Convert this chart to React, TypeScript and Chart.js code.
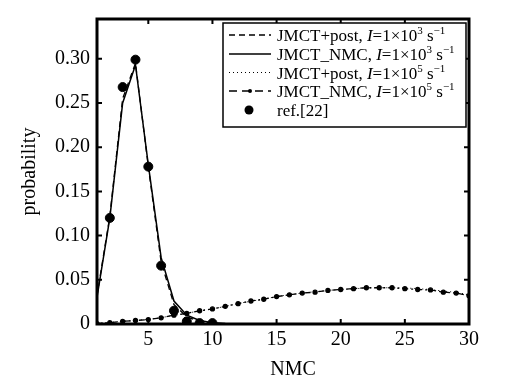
import React, { useEffect, useRef } from "react";
import { Chart, registerables } from "chart.js";

Chart.register(...registerables);

// ---- data ----
const nmcX = [1, 2, 3, 4, 5, 6, 7, 8, 9, 10, 11, 12, 13, 14, 15, 16, 17, 18, 19, 20, 21, 22, 23, 24, 25, 26, 27, 28, 29, 30];
const jmctPost1e3 = [0.032, 0.122, 0.255, 0.295, 0.178, 0.070, 0.022, 0.008, 0.003, 0.001, 0.0004, 0.0001, 0, 0, 0, 0, 0, 0, 0, 0, 0, 0, 0, 0, 0, 0, 0, 0, 0, 0];
const jmctNmc1e3 = [0.030, 0.120, 0.250, 0.293, 0.180, 0.075, 0.026, 0.010, 0.004, 0.0015, 0.0006, 0.0002, 0.0001, 0, 0, 0, 0, 0, 0, 0, 0, 0, 0, 0, 0, 0, 0, 0, 0, 0];
const jmctPost1e5 = [0.0005, 0.0018, 0.003, 0.0042, 0.0052, 0.0072, 0.0098, 0.0122, 0.0148, 0.0172, 0.0198, 0.0232, 0.0258, 0.0282, 0.031, 0.0332, 0.035, 0.0365, 0.038, 0.039, 0.0398, 0.0408, 0.041, 0.041, 0.0408, 0.04, 0.039, 0.0372, 0.0358, 0.033];
const jmctNmc1e5 = [0.0005, 0.0015, 0.003, 0.004, 0.005, 0.007, 0.010, 0.012, 0.015, 0.017, 0.020, 0.023, 0.026, 0.028, 0.031, 0.033, 0.035, 0.036, 0.038, 0.039, 0.040, 0.041, 0.041, 0.041, 0.040, 0.039, 0.0385, 0.036, 0.035, 0.032];
const refX = [2, 3, 4, 5, 6, 7, 8, 9, 10];
const refY = [0.12, 0.268, 0.299, 0.178, 0.066, 0.015, 0.003, 0.001, 0.001];

const xTicks = [5, 10, 15, 20, 25, 30];
const yTicks = [0, 0.05, 0.1, 0.15, 0.2, 0.25, 0.3];
const yTickLabels = ["0", "0.05", "0.10", "0.15", "0.20", "0.25", "0.30"];

const xTitle = "NMC";
const yTitle = "probability";

type Seg = { t: string; it?: boolean; sup?: boolean };
const legendRows: Seg[][] = [
  [{ t: "JMCT+post, " }, { t: "I", it: true }, { t: "=1×10" }, { t: "3", sup: true }, { t: " s" }, { t: "−1", sup: true }],
  [{ t: "JMCT_NMC, " }, { t: "I", it: true }, { t: "=1×10" }, { t: "3", sup: true }, { t: " s" }, { t: "−1", sup: true }],
  [{ t: "JMCT+post, " }, { t: "I", it: true }, { t: "=1×10" }, { t: "5", sup: true }, { t: " s" }, { t: "−1", sup: true }],
  [{ t: "JMCT_NMC, " }, { t: "I", it: true }, { t: "=1×10" }, { t: "5", sup: true }, { t: " s" }, { t: "−1", sup: true }],
  [{ t: "ref.[22]" }],
];

const FONT = "'Liberation Serif', 'DejaVu Serif', serif";

const pts = (xs: number[], ys: number[]) => xs.map((x, i) => ({ x, y: ys[i] }));

const framePlugin = {
  id: "frame",
  afterDraw(chart: any) {
    const ctx = chart.ctx;
    const { left, right, top, bottom } = chart.chartArea;
    const xs = chart.scales.x;
    const ys = chart.scales.y;
    ctx.save();
    ctx.strokeStyle = "#000";
    ctx.lineWidth = 3;
    ctx.strokeRect(left, top, right - left, bottom - top);
    ctx.lineWidth = 2;
    ctx.beginPath();
    xTicks.forEach((v) => {
      const p = xs.getPixelForValue(v);
      ctx.moveTo(p, bottom);
      ctx.lineTo(p, bottom - 5);
      ctx.moveTo(p, top);
      ctx.lineTo(p, top + 5);
    });
    yTicks.forEach((v) => {
      const p = ys.getPixelForValue(v);
      ctx.moveTo(left, p);
      ctx.lineTo(left + 5, p);
      ctx.moveTo(right, p);
      ctx.lineTo(right - 5, p);
    });
    ctx.stroke();

    // axis titles
    ctx.fillStyle = "#000";
    ctx.font = `20px ${FONT}`;
    ctx.textAlign = "center";
    ctx.textBaseline = "middle";
    ctx.fillText(xTitle, 293, 370);
    ctx.save();
    ctx.translate(30, (top + bottom) / 2);
    ctx.rotate(-Math.PI / 2);
    ctx.fillText(yTitle, 0, 0);
    ctx.restore();

    // legend
    const bx = 223, by = 23, bw = 243, bh = 104;
    ctx.fillStyle = "#fff";
    ctx.fillRect(bx, by, bw, bh);
    ctx.lineWidth = 1.5;
    ctx.strokeStyle = "#000";
    ctx.strokeRect(bx, by, bw, bh);
    const rowY = [35, 54, 72.5, 91, 110];
    const ds = chart.data.datasets;
    const order = [0, 1, 2, 3, 4];
    order.forEach((di, r) => {
      const d = ds[di];
      const y = rowY[r];
      ctx.save();
      ctx.strokeStyle = "#000";
      ctx.fillStyle = "#000";
      if (d.showLine === false) {
        ctx.beginPath();
        ctx.arc(249, y, 4.5, 0, Math.PI * 2);
        ctx.fill();
      } else {
        ctx.lineWidth = d.borderWidth;
        ctx.setLineDash(d.legendDash || []);
        ctx.beginPath();
        ctx.moveTo(229, y);
        ctx.lineTo(271, y);
        ctx.stroke();
        ctx.setLineDash([]);
        if (d.pointRadius > 0) {
          ctx.beginPath();
          ctx.arc(250, y, 2, 0, Math.PI * 2);
          ctx.fill();
        }
      }
      ctx.restore();
      // text
      let x = 277;
      ctx.textAlign = "left";
      ctx.textBaseline = "alphabetic";
      ctx.fillStyle = "#000";
      legendRows[r].forEach((s) => {
        const size = s.sup ? 11 : 17;
        ctx.font = `${s.it ? "italic " : ""}${size}px ${FONT}`;
        const yy = s.sup ? y + 6 - 7 : y + 6;
        ctx.fillText(s.t, x, yy);
        x += ctx.measureText(s.t).width;
      });
    });
    ctx.restore();
  },
};

export default function App() {
  const ref = useRef<HTMLCanvasElement | null>(null);
  useEffect(() => {
    if (!ref.current) return;
    const chart = new Chart(ref.current, {
      type: "scatter",
      data: {
        datasets: [
          {
            label: "JMCT+post, I=1×10³ s⁻¹",
            data: pts(nmcX, jmctPost1e3),
            showLine: true,
            borderColor: "#000",
            borderWidth: 1.3,
            borderDash: [6, 4],
            legendDash: [6, 4],
            pointRadius: 0,
            tension: 0,
          } as any,
          {
            label: "JMCT_NMC, I=1×10³ s⁻¹",
            data: pts(nmcX, jmctNmc1e3),
            showLine: true,
            borderColor: "#000",
            borderWidth: 1.5,
            pointRadius: 0,
            tension: 0,
          } as any,
          {
            label: "JMCT+post, I=1×10⁵ s⁻¹",
            data: pts(nmcX, jmctPost1e5),
            showLine: true,
            borderColor: "#000",
            borderWidth: 1,
            borderDash: [1, 3],
            legendDash: [1, 3],
            pointRadius: 0,
            tension: 0,
          } as any,
          {
            label: "JMCT_NMC, I=1×10⁵ s⁻¹",
            data: pts(nmcX, jmctNmc1e5),
            showLine: true,
            borderColor: "#000",
            borderWidth: 1.3,
            borderDash: [6, 3, 2, 3],
            legendDash: [8, 5],
            pointRadius: 2,
            pointBackgroundColor: "#000",
            pointBorderColor: "#000",
            tension: 0,
          } as any,
          {
            label: "ref.[22]",
            data: pts(refX, refY),
            showLine: false,
            pointRadius: 4.5,
            pointBackgroundColor: "#000",
            pointBorderColor: "#000",
            borderColor: "#000",
          } as any,
        ],
      },
      options: {
        animation: false,
        responsive: false,
        devicePixelRatio: 1,
        layout: { padding: { top: 13, right: 47, left: 0, bottom: 0 } },
        plugins: { legend: { display: false }, tooltip: { enabled: false } },
        scales: {
          x: {
            type: "linear",
            min: 1,
            max: 30,
            grid: { display: false, drawTicks: false },
            border: { display: false },
            afterFit: (s: any) => {
              s.height = 62;
            },
            afterBuildTicks: (s: any) => {
              s.ticks = xTicks.map((v) => ({ value: v }));
            },
            ticks: {
              color: "#000",
              font: { family: FONT, size: 20 },
              padding: 4,
              maxRotation: 0,
              autoSkip: false,
              callback: (v: any) => String(v),
            },
          },
          y: {
            type: "linear",
            min: 0,
            max: 0.345,
            grid: { display: false, drawTicks: false },
            border: { display: false },
            afterFit: (s: any) => {
              s.width = 97;
            },
            afterBuildTicks: (s: any) => {
              s.ticks = yTicks.map((v) => ({ value: v }));
            },
            ticks: {
              color: "#000",
              font: { family: FONT, size: 20 },
              padding: 7,
              autoSkip: false,
              callback: (v: any) => {
                const i = yTicks.findIndex((t) => Math.abs(t - v) < 1e-9);
                return i >= 0 ? yTickLabels[i] : "";
              },
            },
          },
        },
      },
      plugins: [framePlugin],
    });
    return () => chart.destroy();
  }, []);
  return (
    <div style={{ position: "fixed", left: 0, top: 0, width: 516, height: 386, background: "#fff" }}>
      <canvas ref={ref} width={516} height={386} />
    </div>
  );
}
